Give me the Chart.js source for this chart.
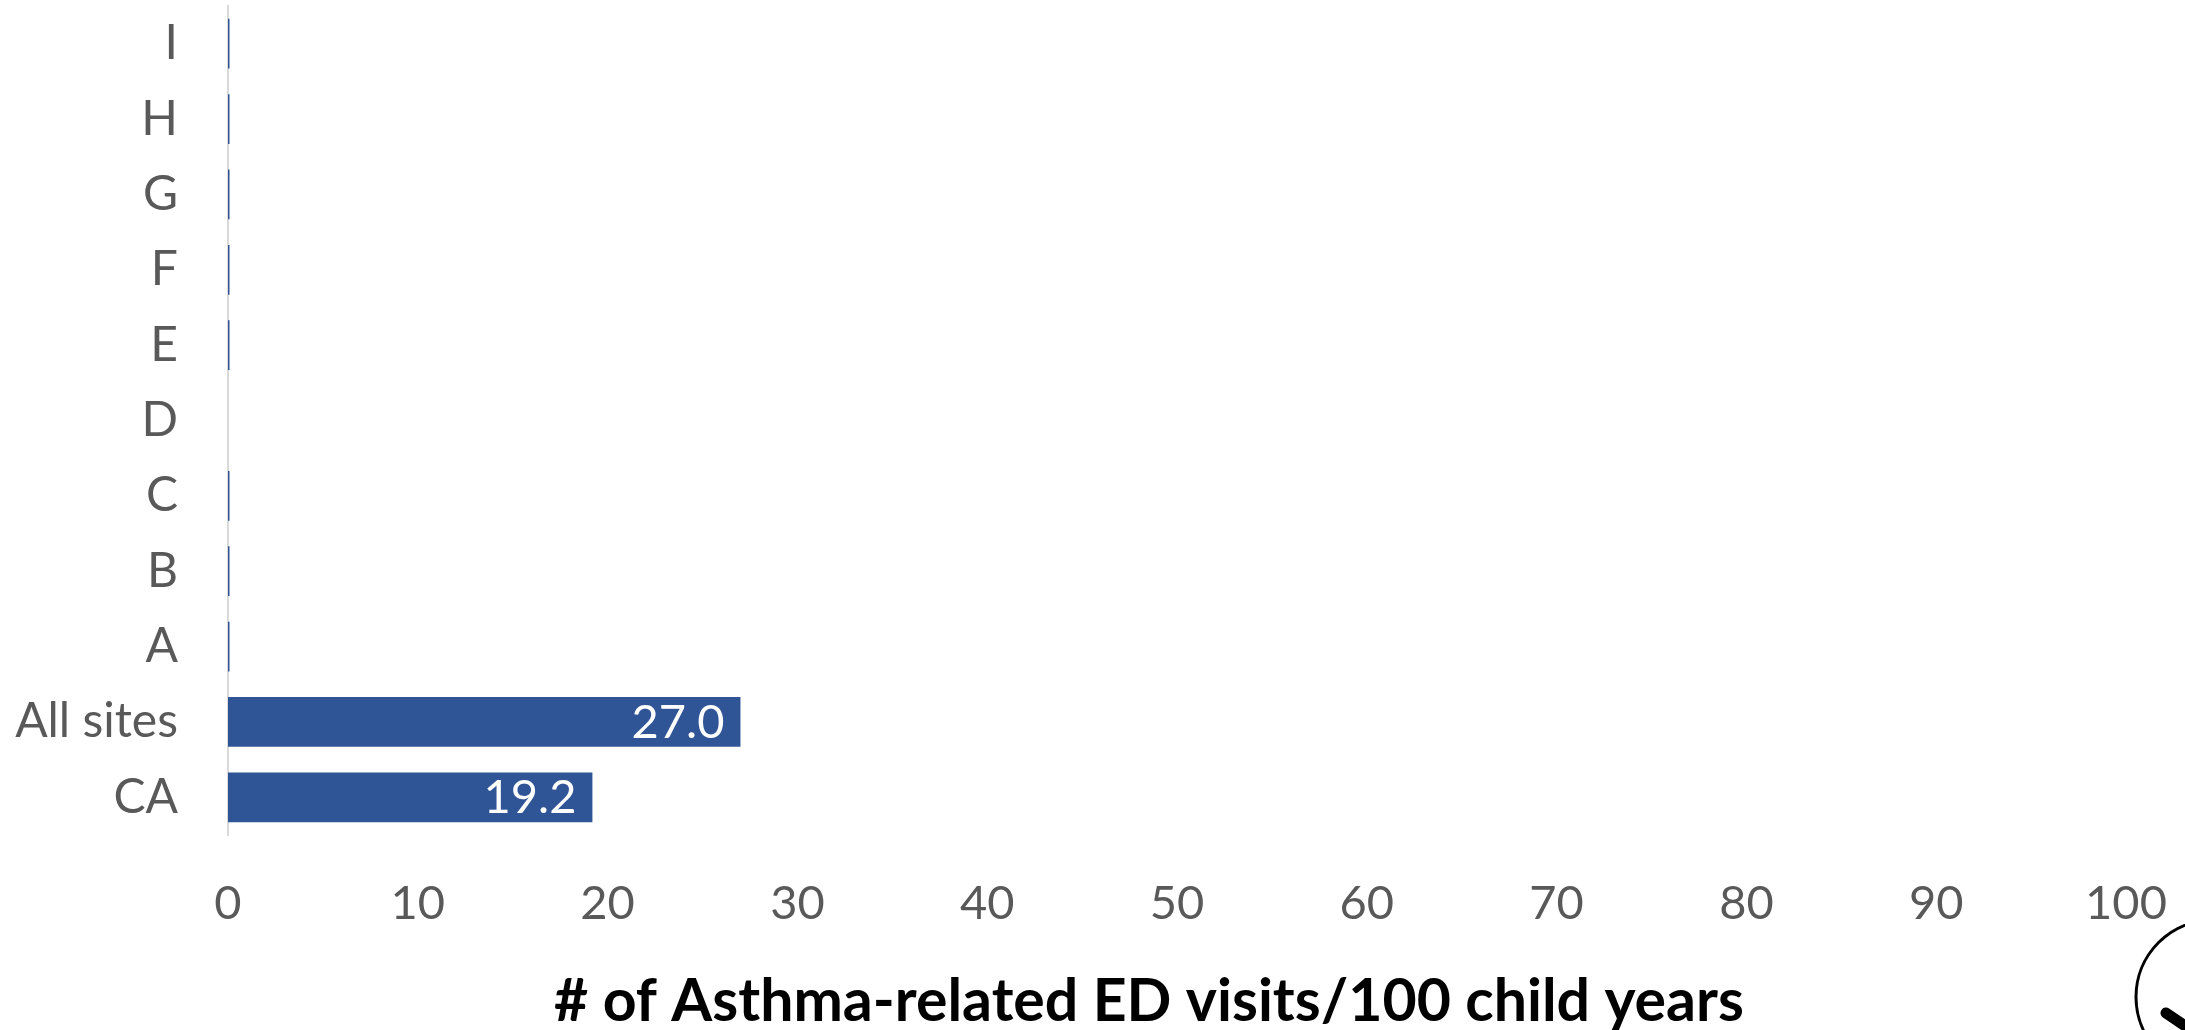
<!DOCTYPE html>
<html>
<head>
<meta charset="utf-8">
<style>
  html, body { margin: 0; padding: 0; background: #fff; overflow: hidden; }
  #wrap { width: 2185px; height: 1030px; }
</style>
<script src="https://cdn.jsdelivr.net/npm/chart.js@4"></script>
</head>
<body>
<div id="wrap"><canvas id="chart"></canvas></div>
<script>
var categories = ['I', 'H', 'G', 'F', 'E', 'D', 'C', 'B', 'A', 'All sites', 'CA'];
var visits = [0.08, 0.08, 0.08, 0.08, 0.08, 0, 0.08, 0.08, 0.08, 27.0, 19.2];
var xTicks = [0, 10, 20, 30, 40, 50, 60, 70, 80, 90, 100];
var xTitle = '# of Asthma-related ED visits/100 child years';

var FONT = 'Lato, "Open Sans", sans-serif';

// white value labels inside the end of the long bars
var barLabels = {
    id: 'barLabels',
    afterDatasetsDraw: function (chart) {
        var ctx = chart.ctx;
        var bars = chart.getDatasetMeta(0).data;
        ctx.save();
        ctx.font = '47px ' + FONT;
        ctx.fillStyle = '#ffffff';
        ctx.textAlign = 'right';
        ctx.textBaseline = 'middle';
        for (var i = 0; i < bars.length; i++) {
            if (visits[i] > 1) {
                ctx.fillText(visits[i].toFixed(1), bars[i].x - 16, bars[i].y + 1);
            }
        }
        ctx.restore();
    }
};

// axis title sits left of the axis centre, plus the cut off badge in the corner
var extras = {
    id: 'extras',
    afterDraw: function (chart) {
        var ctx = chart.ctx;
        ctx.save();
        ctx.font = 'bold 59px ' + FONT;
        ctx.fillStyle = '#000000';
        ctx.textAlign = 'center';
        ctx.textBaseline = 'middle';
        ctx.fillText(xTitle, 1149, 1002);

        ctx.strokeStyle = '#000000';
        ctx.lineWidth = 3;
        ctx.beginPath();
        ctx.arc(2213, 997, 77, 0, Math.PI * 2);
        ctx.stroke();
        ctx.lineWidth = 11;
        ctx.lineCap = 'round';
        ctx.beginPath();
        ctx.moveTo(2166, 1013);
        ctx.lineTo(2200, 1036);
        ctx.stroke();
        ctx.restore();
    }
};

new Chart(document.getElementById('chart'), {
    type: 'bar',
    data: {
        labels: categories,
        datasets: [{
            data: visits,
            backgroundColor: '#2F5597',
            barPercentage: 0.66,
            categoryPercentage: 1
        }]
    },
    options: {
        indexAxis: 'y',
        responsive: true,
        maintainAspectRatio: false,
        animation: false,
        layout: { padding: { top: 6, right: 59, left: 0, bottom: 0 } },
        plugins: {
            legend: { display: false },
            tooltip: { enabled: false }
        },
        scales: {
            x: {
                min: 0,
                max: 100,
                afterFit: function (scale) {
                    scale.height = 195;
                    scale.paddingLeft = 0;
                    scale.paddingRight = 0;
                },
                afterBuildTicks: function (scale) {
                    scale.ticks = xTicks.map(function (v) { return { value: v }; });
                },
                grid: { display: false, drawTicks: false },
                border: { display: false },
                ticks: {
                    color: '#595959',
                    font: { family: FONT, size: 47 },
                    padding: 41,
                    maxRotation: 0,
                    autoSkip: false
                }
            },
            y: {
                afterFit: function (scale) {
                    scale.width = 228;
                    scale.paddingTop = 0;
                    scale.paddingBottom = 0;
                },
                grid: { display: false, drawTicks: false },
                border: { display: true, color: '#d9d9d9', width: 2 },
                ticks: {
                    color: '#595959',
                    font: { family: FONT, size: 48 },
                    padding: 50,
                    autoSkip: false
                }
            }
        }
    },
    plugins: [barLabels, extras]
});
</script>
</body>
</html>
